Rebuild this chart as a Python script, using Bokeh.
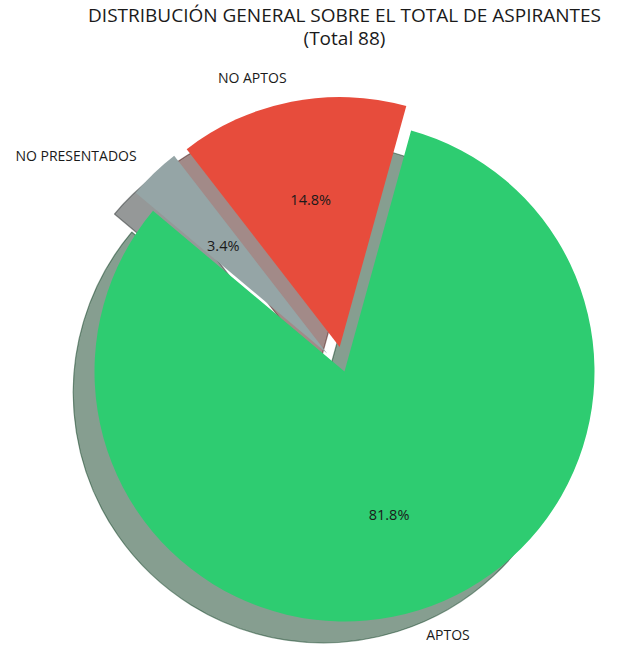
import math
from bokeh.plotting import figure
from bokeh.models import ColumnDataSource, Range1d
from bokeh.core.properties import value
from bokeh.embed import file_html
from bokeh.resources import INLINE

# ---- data ----
categories = ["APTOS", "NO APTOS", "NO PRESENTADOS"]
counts = [72, 13, 3]
colors = ["#2ecc71", "#e74c3c", "#95a5a6"]
explode = [0.0, 0.1, 0.1]
title_lines = ["DISTRIBUCIÓN GENERAL SOBRE EL TOTAL DE ASPIRANTES", "(Total 88)"]

# ---- style / geometry ----
start_deg = 140.0
shadow_off = 0.085
label_dist = 1.1
pct_dist = 0.6
FONT = "Open Sans"

W, H = 607, 647
R = 250.0          # pixels per data unit (pie radius = 1)
cx, cy = 344.0, 371.0

p = figure(width=W, height=H, output_backend="svg", toolbar_location=None,
           x_range=Range1d(-cx / R, (W - cx) / R),
           y_range=Range1d(-(H - cy) / R, cy / R),
           x_axis_type=None, y_axis_type=None, min_border=0,
           background_fill_color="white", border_fill_color="white")
p.grid.visible = False
p.outline_line_color = None


def hex_to_rgb(h):
    h = h.lstrip("#")
    return tuple(int(h[i:i + 2], 16) for i in (0, 2, 4))


total = sum(counts)
rows = dict(x=[], y=[], sa=[], ea=[], color=[], shx=[], shy=[], shcolor=[],
            lx=[], ly=[], ltext=[], lalign=[], px=[], py=[], ptext=[])
theta1 = start_deg
for cat, c, col, ex in zip(categories, counts, colors, explode):
    frac = c / total
    theta2 = theta1 + 360.0 * frac
    mid = math.radians((theta1 + theta2) / 2.0)
    ox = ex * math.cos(mid)
    oy = ex * math.sin(mid)
    rows["x"].append(ox)
    rows["y"].append(oy)
    rows["sa"].append(math.radians(theta1))
    rows["ea"].append(math.radians(theta2))
    rows["color"].append(col)
    rows["shx"].append(ox - shadow_off)
    rows["shy"].append(oy - shadow_off)
    r, g, b = hex_to_rgb(col)
    rows["shcolor"].append("#%02x%02x%02x" % (int(0.3 * r), int(0.3 * g), int(0.3 * b)))
    lx = ox + label_dist * math.cos(mid)
    ly = oy + label_dist * math.sin(mid)
    rows["lx"].append(lx)
    rows["ly"].append(ly)
    rows["ltext"].append(cat)
    rows["lalign"].append("left" if lx > 0 else "right")
    rows["px"].append(ox + pct_dist * math.cos(mid))
    rows["py"].append(oy + pct_dist * math.sin(mid))
    rows["ptext"].append(f"{100.0 * frac:.1f}%")
    theta1 = theta2

src = ColumnDataSource(rows)

# shadows (below all wedges)
p.wedge(x="shx", y="shy", radius=1.0, start_angle="sa", end_angle="ea",
        direction="anticlock", fill_color="shcolor", fill_alpha=0.5,
        line_color="shcolor", line_alpha=0.5, line_width=1.2, source=src)
# wedges
p.wedge(x="x", y="y", radius=1.0, start_angle="sa", end_angle="ea",
        direction="anticlock", fill_color="color", line_color=None, source=src)

# category labels
p.text(x="lx", y="ly", text="ltext", text_align="lalign", text_baseline="middle",
       text_font=value(FONT), text_font_size="14px", text_color="#1a1a1a", source=src)
# percentages
p.text(x="px", y="py", text="ptext", text_align="center", text_baseline="middle",
       text_font=value(FONT), text_font_size="14.5px", text_color="#1a1a1a", source=src)

# title
title_src = ColumnDataSource(dict(x=[0.0, 0.0], y=[(cy - 14.8) / R, (cy - 37.4) / R],
                                  t=title_lines))
p.text(x="x", y="y", text="t", text_align="center", text_baseline="middle",
       text_font=value(FONT), text_font_size="19px", text_color="#1a1a1a", source=title_src)

open("out.html", "w").write(file_html(p, INLINE))
